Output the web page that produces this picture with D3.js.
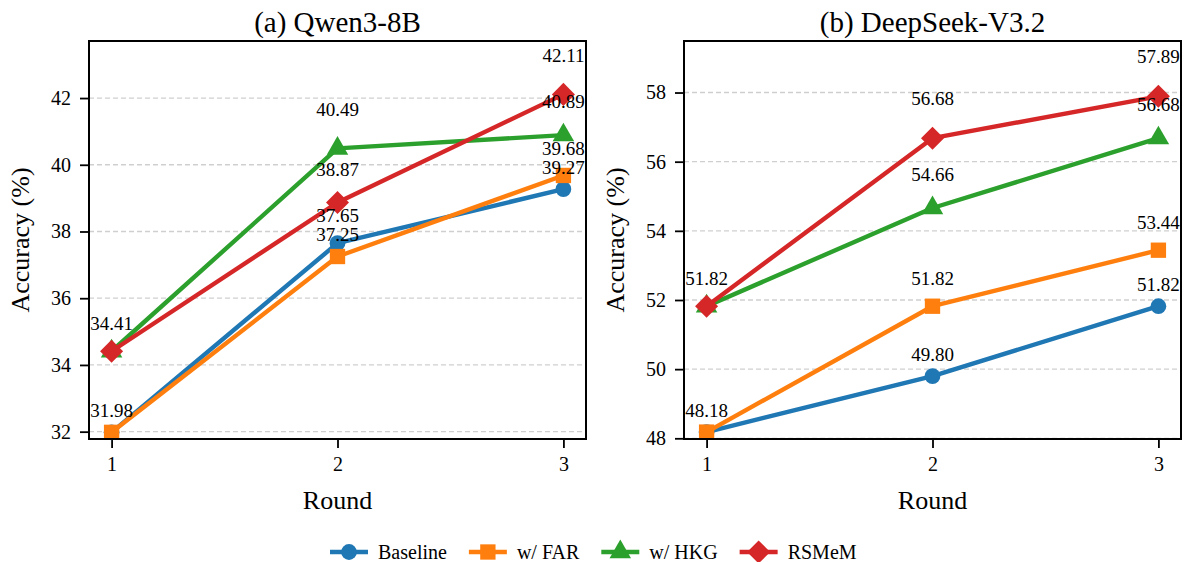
<!DOCTYPE html>
<html>
<head>
<meta charset="utf-8">
<script src="https://cdn.jsdelivr.net/npm/d3@7"></script>
<style>
    body { margin: 0; background: #fff; }
</style>
</head>
<body>
<div id="chart"></div>
<script>
// values
const rounds = [1, 2, 3];
const seriesNames = ['Baseline', 'w/ FAR', 'w/ HKG', 'RSMeM'];
const panelTitles = ['(a) Qwen3-8B', '(b) DeepSeek-V3.2'];

const qwenBaseline = [31.98, 37.65, 39.27];
const qwenFar = [31.98, 37.25, 39.68];
const qwenHkg = [34.41, 40.49, 40.89];
const qwenRsmem = [34.41, 38.87, 42.11];

const deepseekBaseline = [48.18, 49.80, 51.82];
const deepseekFar = [48.18, 51.82, 53.44];
const deepseekHkg = [51.82, 54.66, 56.68];
const deepseekRsmem = [51.82, 56.68, 57.89];

const qwenTicks = [32, 34, 36, 38, 40, 42];
const deepseekTicks = [48, 50, 52, 54, 56, 58];

const colors = ['#1f77b4', '#ff7f0e', '#2ca02c', '#d62728'];
const symbols = [d3.symbolCircle, d3.symbolSquare, d3.symbolTriangle, d3.symbolSquare];
const symbolSizes = [195, 235, 200, 265];
const symbolRotate = [0, 0, 0, 45];

const serif = '"Liberation Serif"';

const width = 1186, height = 562;
const box = {top: 41, height: 398, width: 497};
const panelLefts = [89, 684];

const svg = d3.select('#chart').append('svg')
    .attr('width', width)
    .attr('height', height);

function addText(parent, size) {
    return parent.append('text')
        .style('font-family', serif)
        .style('font-size', size + 'px')
        .attr('fill', '#000');
}

function drawPanel({left, title, series, ticks}) {
    const all = series.flat();
    const yMin = d3.min(all) - 0.2;
    const yMax = d3.max(all) + 1.6;

    const x = d3.scaleLinear().domain([0.9, 3.1]).range([0, box.width]);
    const y = d3.scaleLinear().domain([yMin, yMax]).range([box.height, 0]);

    const g = svg.append('g').attr('transform', `translate(${left},${box.top})`);

    // grid
    g.append('g').selectAll('line')
        .data(ticks)
        .join('line')
        .attr('x1', 0).attr('x2', box.width)
        .attr('y1', d => y(d)).attr('y2', d => y(d))
        .attr('stroke', '#cfcfcf')
        .attr('stroke-width', 1.3)
        .attr('stroke-dasharray', '5,3');

    const yAxis = g.append('g')
        .call(d3.axisLeft(y).tickValues(ticks).tickFormat(d3.format('d')).tickSize(9).tickPadding(9));
    const xAxis = g.append('g')
        .attr('transform', `translate(0,${box.height})`)
        .call(d3.axisBottom(x).tickValues(rounds).tickFormat(d3.format('d')).tickSize(9).tickPadding(9));

    [yAxis, xAxis].forEach(a => {
        a.select('.domain').remove();
        a.selectAll('.tick line').attr('stroke', '#000').attr('stroke-width', 1.8);
        a.selectAll('.tick text')
            .attr('fill', '#000')
            .style('font-family', serif)
            .style('font-size', '20px');
    });

    const line = d3.line().x((d, i) => x(rounds[i])).y(d => y(d));

    series.forEach((vals, s) => {
        g.append('path')
            .datum(vals)
            .attr('d', line)
            .attr('fill', 'none')
            .attr('stroke', colors[s])
            .attr('stroke-width', 4.4)
            .attr('stroke-linejoin', 'round');

        g.append('g').selectAll('path')
            .data(vals)
            .join('path')
            .attr('d', d3.symbol().type(symbols[s]).size(symbolSizes[s]))
            .attr('transform', (d, i) => `translate(${x(rounds[i])},${y(d)}) rotate(${symbolRotate[s]})`)
            .attr('fill', colors[s]);
    });

    // value labels, lifted more for higher values at the same round
    const lift = [22, 27.5, 33.5, 39.5];
    rounds.forEach((r, i) => {
        const distinct = Array.from(new Set(series.map(v => v[i]))).sort((a, b) => a - b);
        distinct.forEach((v, rank) => {
            addText(g, 19)
                .attr('x', x(r))
                .attr('y', y(v) - lift[rank])
                .attr('dy', '0.35em')
                .attr('text-anchor', 'middle')
                .text(v.toFixed(2));
        });
    });

    // frame
    g.append('rect')
        .attr('width', box.width)
        .attr('height', box.height)
        .attr('fill', 'none')
        .attr('stroke', '#000')
        .attr('stroke-width', 2);

    addText(g, 29)
        .attr('x', box.width / 2)
        .attr('y', -9)
        .attr('text-anchor', 'middle')
        .text(title);

    addText(g, 26)
        .attr('x', box.width / 2)
        .attr('y', box.height + 70)
        .attr('text-anchor', 'middle')
        .text('Round');

    addText(g, 26)
        .attr('transform', `translate(${-60},${box.height / 2}) rotate(-90)`)
        .attr('text-anchor', 'middle')
        .text('Accuracy (%)');
}

drawPanel({
    left: panelLefts[0],
    title: panelTitles[0],
    series: [qwenBaseline, qwenFar, qwenHkg, qwenRsmem],
    ticks: qwenTicks
});
drawPanel({
    left: panelLefts[1],
    title: panelTitles[1],
    series: [deepseekBaseline, deepseekFar, deepseekHkg, deepseekRsmem],
    ticks: deepseekTicks
});

// legend along the bottom
const legend = svg.append('g').attr('transform', 'translate(0,552)');
let cursor = 330;
seriesNames.forEach((name, s) => {
    const item = legend.append('g').attr('transform', `translate(${cursor},0)`);
    item.append('line')
        .attr('x1', 0).attr('x2', 38)
        .attr('stroke', colors[s])
        .attr('stroke-width', 4.4);
    item.append('path')
        .attr('d', d3.symbol().type(symbols[s]).size(symbolSizes[s]))
        .attr('transform', `translate(19,0) rotate(${symbolRotate[s]})`)
        .attr('fill', colors[s]);
    const label = addText(item, 20)
        .attr('x', 48)
        .attr('dy', '0.35em')
        .text(name);
    cursor += 48 + label.node().getComputedTextLength() + 22;
});
</script>
</body>
</html>
